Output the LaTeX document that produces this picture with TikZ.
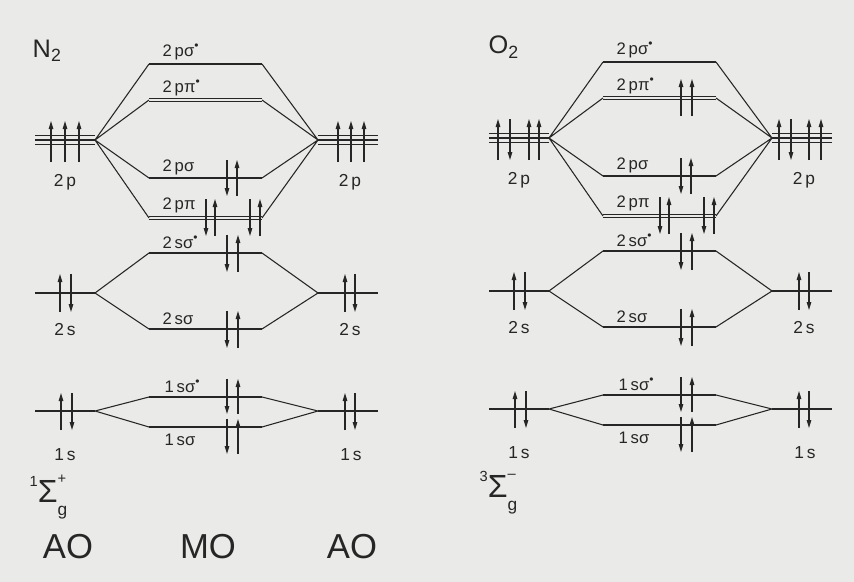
\documentclass[tikz,border=0pt]{standalone}
\usepackage{fontspec}
\setmainfont{Liberation Sans}
\usetikzlibrary{arrows.meta}
\definecolor{cInk}{HTML}{262626}
\definecolor{cPaper}{HTML}{EAEAE8}

\begin{document}
\begin{tikzpicture}[x=0.75pt,y=-0.75pt,
    molev/.style={draw=cInk,line width=1.5pt},
    pilev/.style={draw=cInk,line width=0.8pt,double=cPaper,double distance=0.9pt},
    aolev/.style={draw=cInk,line width=1.3pt},
    aotri/.style={draw=cInk,line width=0.8pt,double=cPaper,double distance=5.4pt},
    link/.style={draw=cInk,line width=0.8pt},
    spin/.style={draw=cInk,line width=0.8pt,-{Triangle[length=6pt,width=3.4pt]}},
    lbl/.style={anchor=west,text=cInk,font=\fontsize{12.5}{12.5}\selectfont},
    aolbl/.style={text=cInk,font=\fontsize{13}{13}\selectfont},
    mol/.style={anchor=west,text=cInk,font=\fontsize{19}{19}\selectfont},
    term/.style={anchor=west,text=cInk,font=\fontsize{24}{24}\selectfont},
    big/.style={text=cInk,font=\fontsize{26}{26}\selectfont}]
  \fill[cPaper] (0,0) rectangle (854,582);
  \useasboundingbox (0,0) rectangle (854,582);

  % same level scheme for N2 and O2
  \foreach \m/\dx/\dy in {n/0/0,o/454/-2}{
    \begin{scope}[shift={(\dx,\dy)}]
      % atomic orbitals
      \draw[aotri] (35,140) -- (95,140) coordinate (\m-2pl);
      \draw[draw=cInk,line width=0.8pt] (35,140) -- (95,140);
      \draw[aotri] (318,140) coordinate (\m-2pr) -- (378,140);
      \draw[draw=cInk,line width=0.8pt] (318,140) -- (378,140);
      \draw[aolev] (35,293) -- (95,293) coordinate (\m-2sl);
      \draw[aolev] (318,293) coordinate (\m-2sr) -- (378,293);
      \draw[aolev] (35,411) -- (95,411) coordinate (\m-1sl);
      \draw[aolev] (318,411) coordinate (\m-1sr) -- (378,411);
      % molecular orbitals
      \draw[molev] (149,64) coordinate (\m-pssl) -- (262,64) coordinate (\m-pssr);
      \draw[pilev] (149,100) coordinate (\m-ppsl) -- (262,100) coordinate (\m-ppsr);
      \draw[molev] (149,178) coordinate (\m-psl) -- (262,178) coordinate (\m-psr);
      \draw[pilev] (149,218) coordinate (\m-ppl) -- (262,218) coordinate (\m-ppr);
      \draw[molev] (149,253) coordinate (\m-sssl) -- (262,253) coordinate (\m-sssr);
      \draw[molev] (149,329) coordinate (\m-ssl) -- (262,329) coordinate (\m-ssr);
      \draw[molev] (149,397) coordinate (\m-kssl) -- (262,397) coordinate (\m-kssr);
      \draw[molev] (149,427) coordinate (\m-ksl) -- (262,427) coordinate (\m-ksr);
      % correlation lines
      \draw[link] (\m-2pl) -- (\m-pssl) (\m-2pl) -- (\m-ppsl) (\m-2pl) -- (\m-psl) (\m-2pl) -- (\m-ppl);
      \draw[link] (\m-2pr) -- (\m-pssr) (\m-2pr) -- (\m-ppsr) (\m-2pr) -- (\m-psr) (\m-2pr) -- (\m-ppr);
      \draw[link] (\m-2sl) -- (\m-sssl) (\m-2sl) -- (\m-ssl) (\m-2sr) -- (\m-sssr) (\m-2sr) -- (\m-ssr);
      \draw[link] (\m-1sl) -- (\m-kssl) (\m-1sl) -- (\m-ksl) (\m-1sr) -- (\m-kssr) (\m-1sr) -- (\m-ksr);
      % labels
      \node[lbl] (\m-tpss) at (158,52) {2\,pσ\raisebox{0.42em}{\fontsize{9}{9}\selectfont •}};
      \node[lbl] (\m-tpps) at (158,88) {2\,pπ\raisebox{0.42em}{\fontsize{9}{9}\selectfont •}};
      \node[lbl] (\m-tps) at (158,167) {2\,pσ};
      \node[lbl] (\m-tpp) at (158,205) {2\,pπ};
      \node[lbl] (\m-tsss) at (158,242) {2\,sσ\raisebox{0.42em}{\fontsize{9}{9}\selectfont •}};
      \node[lbl] (\m-tss) at (158,319) {2\,sσ};
      \node[lbl] (\m-tkss) at (160,386) {1\,sσ\raisebox{0.42em}{\fontsize{9}{9}\selectfont •}};
      \node[lbl] (\m-tks) at (160,440) {1\,sσ};
      \node[aolbl] (\m-t2pl) at (65,182) {2\,p};
      \node[aolbl] (\m-t2pr) at (350,182) {2\,p};
      \node[aolbl] (\m-t2sl) at (65,330) {2\,s};
      \node[aolbl] (\m-t2sr) at (350,330) {2\,s};
      \node[aolbl] (\m-t1sl) at (65,455) {1\,s};
      \node[aolbl] (\m-t1sr) at (351,455) {1\,s};
      % electrons common to both
      \draw[spin] (227,160) -- (227,196);  \draw[spin] (237,196) -- (237,160);
      \draw[spin] (206,199) -- (206,236);  \draw[spin] (215,236) -- (215,199);
      \draw[spin] (250,199) -- (250,236);  \draw[spin] (260,236) -- (260,199);
      \draw[spin] (227,235) -- (227,272);  \draw[spin] (238,272) -- (238,235);
      \draw[spin] (227,311) -- (227,348);  \draw[spin] (238,348) -- (238,311);
      \draw[spin] (227,379) -- (227,414);  \draw[spin] (238,414) -- (238,379);
      \draw[spin] (227,419) -- (227,454);  \draw[spin] (238,454) -- (238,419);
      \draw[spin] (60,312) -- (60,274);    \draw[spin] (71,274) -- (71,312);
      \draw[spin] (345,312) -- (345,274);  \draw[spin] (355,274) -- (355,312);
      \draw[spin] (61,430) -- (61,393);    \draw[spin] (72,393) -- (72,430);
      \draw[spin] (345,430) -- (345,393);  \draw[spin] (355,393) -- (355,430);
    \end{scope}
  }

  % N2
  \node[mol] (n2) at (28,51) {N\textsubscript{2}};
  \draw[spin] (51,162) -- (51,121);
  \draw[spin] (65,162) -- (65,121);
  \draw[spin] (79,162) -- (79,121);
  \draw[spin] (338,162) -- (338,121);
  \draw[spin] (351,162) -- (351,121);
  \draw[spin] (364,162) -- (364,121);
  \node[term] (n2term) at (25,497) {\raisebox{0.5em}{\fontsize{11}{11}\selectfont 1}Σ\rlap{\raisebox{0.62em}{\fontsize{11}{11}\selectfont +}}\raisebox{-0.4em}{\fontsize{13}{13}\selectfont g}};

  % O2
  \node[mol] (o2) at (484,47) {O\textsubscript{2}};
  \draw[spin] (681,116) -- (681,79);
  \draw[spin] (692,116) -- (692,79);
  \draw[spin] (498,160) -- (498,119);
  \draw[spin] (510,119) -- (510,160);
  \draw[spin] (529,160) -- (529,119);
  \draw[spin] (539,160) -- (539,119);
  \draw[spin] (779,160) -- (779,119);
  \draw[spin] (791,119) -- (791,160);
  \draw[spin] (809,160) -- (809,119);
  \draw[spin] (821,160) -- (821,119);
  \node[term] (o2term) at (475,493) {\raisebox{0.5em}{\fontsize{11}{11}\selectfont 3}Σ\rlap{\raisebox{0.62em}{\fontsize{11}{11}\selectfont –}}\raisebox{-0.4em}{\fontsize{13}{13}\selectfont g}};

  % columns
  \node[big] (aol) at (68,547) {AO};
  \node[big] (mo) at (208,547) {MO};
  \node[big] (aor) at (352,547) {AO};
\end{tikzpicture}
\end{document}
